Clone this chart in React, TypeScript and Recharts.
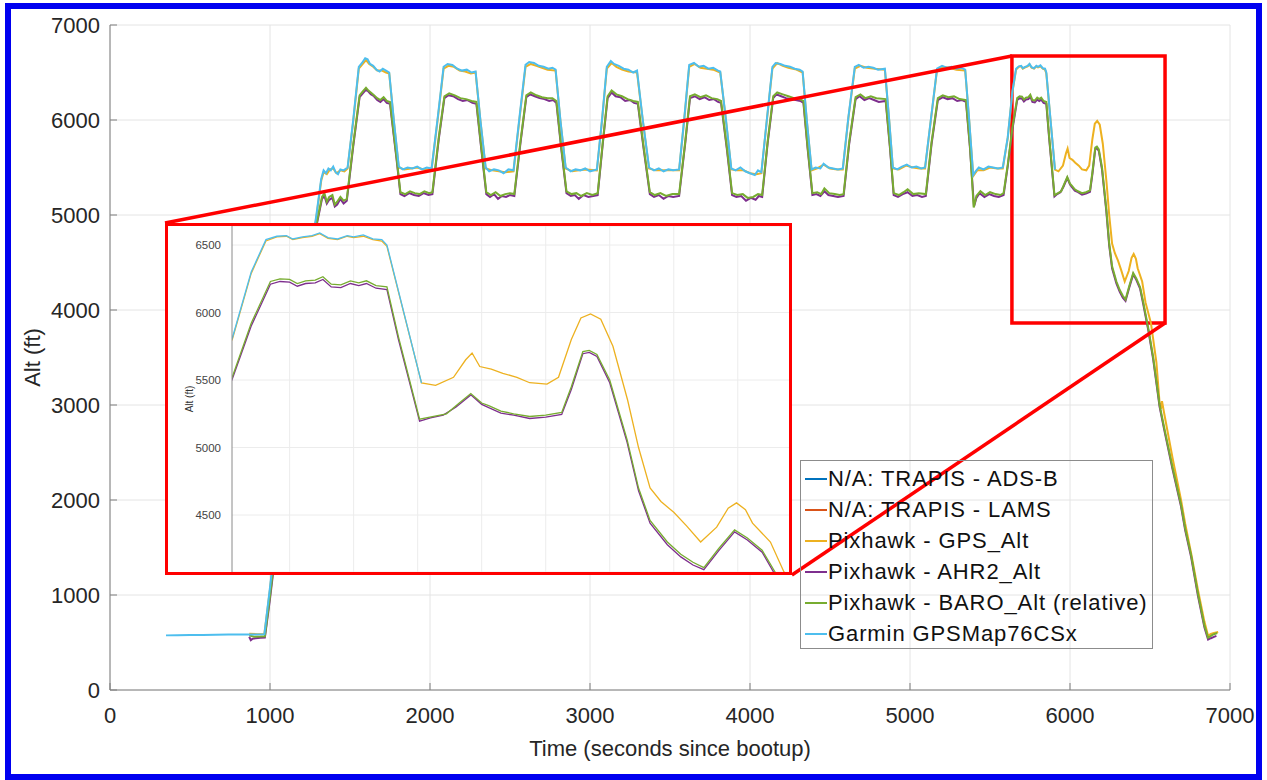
import { LineChart, Line, XAxis, YAxis, CartesianGrid, ReferenceArea, ReferenceLine } from "recharts";

// samples are [time (s since bootup), altitude (ft)]
type Pt = { t: number; v: number };
const toPts = (a: number[][]): Pt[] => a.map(([t, v]) => ({ t, v }));

const TIME_TICKS = [0, 1000, 2000, 3000, 4000, 5000, 6000, 7000];
const ALT_TICKS = [0, 1000, 2000, 3000, 4000, 5000, 6000, 7000];
const INSET_TIME_TICKS = [5700, 5800, 5900, 6000, 6100, 6200, 6300, 6400];
const INSET_ALT_TICKS = [4500, 5000, 5500, 6000, 6500];

const trapisAdsb: number[][] = [];
const trapisLams: number[][] = [];

const gpsAlt = [
  [870, 592], [920, 588], [965, 590], [1000, 1060], [1060, 1930], [1120, 2790], [1180, 3620], [1240, 4410], [1290, 4980],
  [1320, 5360], [1335, 5450], [1355, 5430], [1375, 5480], [1395, 5490], [1415, 5440], [1440, 5470], [1465, 5460], [1485, 5490],
  [1520, 5980], [1555, 6540], [1580, 6590], [1600, 6630], [1620, 6590], [1645, 6560], [1670, 6520], [1700, 6520], [1725, 6500], [1745, 6490],
  [1775, 5970], [1805, 5500], [1840, 5480], [1880, 5490], [1920, 5500], [1960, 5480], [2010, 5480],
  [2050, 6030], [2085, 6540], [2115, 6570], [2150, 6560], [2185, 6520], [2220, 6510], [2255, 6490], [2285, 6500],
  [2315, 5990], [2348, 5490], [2390, 5470], [2430, 5460], [2470, 5450], [2522, 5460],
  [2560, 6020], [2597, 6560], [2630, 6590], [2665, 6570], [2700, 6550], [2735, 6530], [2785, 6520],
  [2815, 5990], [2848, 5490], [2890, 5460], [2930, 5470], [2970, 5480], [3043, 5470],
  [3075, 5990], [3105, 6540], [3135, 6600], [3165, 6560], [3200, 6530], [3240, 6510], [3294, 6500],
  [3330, 5990], [3369, 5490], [3410, 5470], [3450, 5470], [3500, 5470], [3557, 5470],
  [3590, 6020], [3620, 6560], [3655, 6590], [3690, 6550], [3730, 6540], [3770, 6530], [3814, 6500],
  [3850, 5990], [3883, 5480], [3920, 5470], [3960, 5470], [4000, 5440], [4040, 5430], [4071, 5440],
  [4105, 5990], [4140, 6540], [4170, 6600], [4205, 6570], [4240, 6550], [4290, 6530], [4329, 6500],
  [4355, 5990], [4385, 5470], [4420, 5490], [4460, 5530], [4500, 5490], [4545, 5480], [4580, 5480],
  [4615, 6020], [4655, 6540], [4690, 6570], [4730, 6550], [4780, 6540], [4843, 6530],
  [4870, 5990], [4893, 5490], [4930, 5480], [4975, 5520], [5020, 5500], [5060, 5490], [5094, 5490],
  [5130, 5990], [5169, 6530], [5205, 6560], [5245, 6550], [5290, 6530], [5345, 6520],
  [5370, 5990], [5395, 5410], [5420, 5470], [5460, 5470], [5500, 5500], [5545, 5490], [5580, 5490],
  [5611, 5810], [5640, 6290], [5663, 6530], [5680, 6560], [5695, 6565], [5705, 6540], [5720, 6555], [5735, 6565], [5747, 6585],
  [5760, 6550], [5775, 6540], [5790, 6565], [5800, 6555], [5815, 6565], [5830, 6540], [5844, 6530], [5852, 6490],
  [5906, 5478], [5928, 5460], [5956, 5520], [5975, 5650], [5985, 5700], [5997, 5600], [6015, 5580], [6033, 5550], [6055, 5520],
  [6075, 5480], [6102, 5470], [6120, 5520], [6140, 5800], [6155, 5960], [6170, 5990], [6186, 5950], [6205, 5750], [6228, 5350],
  [6245, 5000], [6263, 4700], [6280, 4600], [6300, 4520], [6320, 4420], [6342, 4300], [6367, 4410], [6385, 4550], [6398, 4590],
  [6412, 4540], [6423, 4440], [6451, 4300], [6472, 4080], [6506, 3860], [6540, 3450], [6560, 3020], [6568, 2960], [6575, 3040],
  [6590, 2900], [6640, 2450], [6694, 2000], [6720, 1750], [6757, 1440], [6800, 1050], [6840, 720], [6863, 570], [6880, 590],
  [6900, 600], [6926, 610],
];

const ahr2Alt = [
  [870, 560], [880, 525], [890, 538], [910, 545], [940, 550], [968, 552], [1000, 960], [1060, 1800], [1120, 2640], [1180, 3480],
  [1240, 4300], [1290, 4880], [1325, 5170], [1340, 5200], [1355, 5120], [1370, 5160], [1390, 5180], [1405, 5090], [1420, 5110],
  [1440, 5170], [1460, 5120], [1480, 5150],
  [1520, 5720], [1560, 6240], [1580, 6280], [1600, 6320], [1615, 6300], [1630, 6270], [1650, 6250], [1670, 6210], [1690, 6190],
  [1710, 6220], [1730, 6180], [1750, 6170],
  [1790, 5600], [1815, 5220], [1840, 5200], [1870, 5230], [1900, 5210], [1930, 5200], [1960, 5230], [1990, 5210], [2015, 5220],
  [2055, 5800], [2090, 6230], [2115, 6260], [2145, 6250], [2175, 6220], [2205, 6200], [2235, 6210], [2265, 6180], [2290, 6170],
  [2320, 5700], [2352, 5220], [2375, 5190], [2400, 5220], [2425, 5170], [2450, 5200], [2475, 5190], [2500, 5210], [2527, 5200],
  [2565, 5750], [2602, 6240], [2625, 6270], [2655, 6250], [2685, 6230], [2715, 6220], [2745, 6200], [2770, 6210], [2790, 6180],
  [2820, 5700], [2853, 5230], [2880, 5200], [2905, 5210], [2930, 5170], [2960, 5210], [2990, 5190], [3020, 5200], [3048, 5210],
  [3080, 5750], [3110, 6230], [3135, 6290], [3160, 6250], [3190, 6240], [3220, 6200], [3250, 6210], [3275, 6180], [3299, 6170],
  [3335, 5700], [3374, 5220], [3400, 5190], [3430, 5210], [3460, 5170], [3490, 5200], [3520, 5190], [3557, 5200],
  [3595, 5750], [3625, 6230], [3655, 6250], [3685, 6220], [3715, 6240], [3745, 6210], [3775, 6220], [3800, 6190], [3819, 6180],
  [3855, 5700], [3888, 5210], [3915, 5190], [3945, 5200], [3975, 5150], [4005, 5180], [4035, 5160], [4055, 5200], [4076, 5190],
  [4110, 5750], [4145, 6230], [4165, 6270], [4195, 6250], [4225, 6230], [4255, 6220], [4285, 6210], [4315, 6200], [4334, 6180],
  [4360, 5700], [4390, 5210], [4415, 5220], [4440, 5200], [4465, 5250], [4490, 5210], [4520, 5200], [4550, 5190], [4585, 5200],
  [4620, 5750], [4660, 6220], [4685, 6250], [4715, 6210], [4745, 6230], [4775, 6210], [4805, 6190], [4848, 6200],
  [4875, 5700], [4898, 5210], [4925, 5190], [4955, 5220], [4985, 5240], [5015, 5200], [5045, 5210], [5075, 5190], [5099, 5200],
  [5135, 5750], [5174, 6210], [5205, 6240], [5235, 6220], [5265, 6230], [5295, 6200], [5325, 6210], [5350, 6190],
  [5375, 5700], [5400, 5090], [5415, 5180], [5435, 5230], [5465, 5190], [5495, 5220], [5525, 5200], [5555, 5190], [5585, 5210],
  [5611, 5515], [5640, 5900], [5670, 6210], [5685, 6230], [5700, 6225], [5712, 6195], [5725, 6215], [5740, 6220], [5752, 6245],
  [5765, 6190], [5780, 6185], [5795, 6215], [5808, 6200], [5820, 6215], [5835, 6180], [5852, 6170], [5870, 5800], [5903, 5195],
  [5920, 5220], [5940, 5240], [5960, 5300], [5983, 5390], [6000, 5320], [6011, 5295], [6030, 5255], [6050, 5240], [6075, 5215],
  [6100, 5225], [6125, 5245], [6140, 5430], [6158, 5695], [6168, 5705], [6180, 5675], [6200, 5480], [6227, 5040], [6245, 4680],
  [6263, 4440], [6290, 4280], [6311, 4190], [6330, 4130], [6347, 4095], [6370, 4235], [6395, 4375], [6415, 4315], [6438, 4225],
  [6458, 4060], [6490, 3780], [6520, 3480], [6560, 2980], [6590, 2730], [6640, 2330], [6694, 1930], [6720, 1680], [6757, 1400],
  [6800, 990], [6840, 660], [6863, 530], [6880, 545], [6900, 560], [6915, 570],
];

const baroAlt = [
  [870, 575], [900, 560], [940, 562], [968, 565], [1000, 990], [1060, 1830], [1120, 2670], [1180, 3510], [1240, 4330], [1290, 4900],
  [1325, 5190], [1340, 5230], [1355, 5140], [1370, 5190], [1390, 5210], [1405, 5110], [1420, 5140], [1440, 5190], [1460, 5150], [1480, 5170],
  [1520, 5740], [1560, 6260], [1580, 6300], [1600, 6340], [1615, 6310], [1630, 6290], [1650, 6260], [1670, 6230], [1690, 6210],
  [1710, 6240], [1730, 6200], [1750, 6190],
  [1790, 5620], [1815, 5240], [1845, 5220], [1875, 5250], [1905, 5230], [1935, 5220], [1965, 5250], [1995, 5230], [2015, 5240],
  [2055, 5820], [2090, 6250], [2120, 6280], [2155, 6260], [2190, 6230], [2225, 6220], [2260, 6200], [2290, 6190],
  [2320, 5720], [2352, 5240], [2380, 5210], [2410, 5240], [2440, 5200], [2470, 5220], [2500, 5230], [2527, 5220],
  [2565, 5770], [2602, 6260], [2630, 6290], [2665, 6260], [2700, 6240], [2735, 6230], [2765, 6230], [2790, 6200],
  [2820, 5720], [2853, 5250], [2885, 5220], [2915, 5230], [2945, 5200], [2980, 5230], [3015, 5210], [3048, 5230],
  [3080, 5770], [3110, 6250], [3135, 6310], [3165, 6270], [3200, 6250], [3235, 6220], [3270, 6200], [3299, 6190],
  [3335, 5720], [3374, 5240], [3405, 5210], [3440, 5230], [3475, 5200], [3515, 5220], [3557, 5220],
  [3595, 5770], [3625, 6250], [3655, 6270], [3690, 6240], [3725, 6260], [3760, 6230], [3795, 6220], [3819, 6200],
  [3855, 5720], [3888, 5230], [3920, 5210], [3955, 5220], [3985, 5180], [4020, 5190], [4050, 5220], [4076, 5210],
  [4110, 5770], [4145, 6250], [4170, 6290], [4205, 6270], [4240, 6250], [4275, 6230], [4310, 6220], [4334, 6200],
  [4360, 5720], [4390, 5230], [4420, 5240], [4445, 5220], [4465, 5280], [4495, 5230], [4530, 5220], [4560, 5210], [4585, 5220],
  [4620, 5770], [4660, 6240], [4690, 6270], [4720, 6230], [4755, 6250], [4790, 6230], [4848, 6220],
  [4875, 5720], [4898, 5230], [4930, 5210], [4960, 5240], [4985, 5270], [5020, 5220], [5055, 5230], [5099, 5220],
  [5135, 5770], [5174, 6230], [5205, 6260], [5240, 6240], [5275, 6250], [5310, 6220], [5350, 6210],
  [5375, 5720], [5398, 5080], [5415, 5200], [5440, 5250], [5470, 5210], [5500, 5240], [5535, 5220], [5565, 5210], [5585, 5230],
  [5611, 5530], [5640, 5920], [5670, 6230], [5685, 6250], [5700, 6245], [5712, 6215], [5725, 6235], [5740, 6240], [5752, 6265],
  [5765, 6210], [5780, 6205], [5795, 6235], [5808, 6220], [5820, 6235], [5835, 6200], [5852, 6190], [5870, 5820], [5903, 5210],
  [5925, 5230], [5945, 5250], [5965, 5330], [5983, 5400], [6000, 5330], [6011, 5310], [6030, 5270], [6050, 5250], [6075, 5230],
  [6100, 5240], [6125, 5260], [6140, 5450], [6158, 5710], [6168, 5720], [6180, 5690], [6200, 5500], [6227, 5060], [6245, 4700],
  [6263, 4460], [6290, 4300], [6311, 4210], [6330, 4150], [6347, 4110], [6370, 4250], [6395, 4390], [6415, 4330], [6438, 4240],
  [6458, 4080], [6490, 3800], [6520, 3500], [6560, 3000], [6590, 2750], [6640, 2350], [6694, 1950], [6720, 1700], [6757, 1420],
  [6800, 1010], [6840, 680], [6863, 550], [6890, 580], [6920, 600],
];

const garminAlt = [
  [350, 575], [420, 577], [500, 578], [580, 580], [660, 581], [740, 583], [820, 584], [900, 585], [965, 587],
  [1000, 1080], [1060, 1950], [1120, 2800], [1180, 3640], [1240, 4430], [1290, 5000], [1320, 5380], [1335, 5470],
  [1350, 5440], [1365, 5490], [1380, 5470], [1395, 5510], [1410, 5450], [1425, 5430], [1440, 5480], [1460, 5470], [1485, 5500],
  [1520, 6000], [1555, 6560], [1575, 6600], [1595, 6650], [1610, 6640], [1625, 6590], [1645, 6570], [1665, 6530], [1685, 6510],
  [1705, 6540], [1725, 6520], [1745, 6500],
  [1775, 5980], [1805, 5510], [1830, 5480], [1860, 5500], [1890, 5490], [1920, 5510], [1950, 5480], [1980, 5500], [2010, 5490],
  [2050, 6050], [2085, 6560], [2110, 6590], [2140, 6580], [2170, 6540], [2200, 6520], [2230, 6530], [2260, 6500], [2285, 6510],
  [2315, 6000], [2348, 5500], [2370, 5460], [2400, 5480], [2430, 5470], [2460, 5440], [2490, 5480], [2522, 5470],
  [2560, 6040], [2597, 6580], [2620, 6610], [2650, 6600], [2680, 6570], [2710, 6560], [2740, 6540], [2765, 6550], [2785, 6530],
  [2815, 6000], [2848, 5500], [2880, 5460], [2910, 5480], [2940, 5470], [2970, 5490], [3000, 5460], [3043, 5480],
  [3075, 6000], [3105, 6560], [3130, 6620], [3150, 6590], [3180, 6570], [3210, 6540], [3240, 6530], [3270, 6500], [3294, 6520],
  [3330, 6000], [3369, 5500], [3400, 5470], [3430, 5490], [3460, 5460], [3490, 5480], [3520, 5470], [3557, 5480],
  [3590, 6030], [3620, 6580], [3650, 6600], [3680, 6560], [3710, 6570], [3740, 6540], [3770, 6550], [3800, 6520], [3814, 6510],
  [3850, 6000], [3883, 5490], [3910, 5470], [3940, 5500], [3970, 5460], [4000, 5440], [4030, 5420], [4050, 5470], [4071, 5450],
  [4105, 6000], [4140, 6560], [4160, 6600], [4190, 6590], [4220, 6570], [4250, 6560], [4280, 6540], [4310, 6530], [4329, 6510],
  [4355, 6000], [4385, 5480], [4410, 5500], [4440, 5490], [4460, 5540], [4490, 5500], [4520, 5490], [4550, 5480], [4580, 5490],
  [4615, 6030], [4655, 6560], [4680, 6580], [4710, 6550], [4740, 6560], [4770, 6550], [4800, 6530], [4843, 6540],
  [4870, 6000], [4893, 5500], [4920, 5480], [4950, 5510], [4980, 5530], [5010, 5500], [5040, 5510], [5070, 5490], [5094, 5500],
  [5130, 6000], [5169, 6540], [5200, 6570], [5230, 6550], [5260, 6560], [5290, 6540], [5320, 6550], [5345, 6530],
  [5370, 6000], [5395, 5420], [5410, 5460], [5430, 5500], [5460, 5480], [5490, 5510], [5520, 5500], [5550, 5490], [5580, 5500],
  [5611, 5819], [5640, 6300], [5663, 6540], [5680, 6565], [5695, 6570], [5705, 6545], [5720, 6560], [5735, 6570], [5747, 6590],
  [5760, 6555], [5775, 6545], [5790, 6570], [5800, 6560], [5815, 6575], [5830, 6545], [5844, 6540], [5852, 6500], [5906, 5478],
];

const SERIES = [
  { name: "N/A: TRAPIS - ADS-B", color: "#0072BD", data: toPts(trapisAdsb) },
  { name: "N/A: TRAPIS - LAMS", color: "#D95319", data: toPts(trapisLams) },
  { name: "Pixhawk - GPS_Alt", color: "#EDB120", data: toPts(gpsAlt) },
  { name: "Pixhawk - AHR2_Alt", color: "#7E2F8E", data: toPts(ahr2Alt) },
  { name: "Pixhawk - BARO_Alt (relative)", color: "#77AC30", data: toPts(baroAlt) },
  { name: "Garmin GPSMap76CSx", color: "#4DBEEE", data: toPts(garminAlt) },
];

// zoom box on the main axes, and the inset corners it is linked to (data units)
const ZOOM_TIME = [5637, 6594];
const ZOOM_ALT = [3863, 6674];
const INSET_TOP_LEFT = [344, 4916];
const INSET_BOTTOM_RIGHT = [4262, 1210];
const INSET_TIME = [5610, 6480];
const INSET_ALT = [4078, 6641];

const FONT = '"Liberation Sans", Arial, Helvetica, sans-serif';
const RED = "#ff0000";

const App = () => {
  return (
    <div style={{ position: "absolute", left: 0, top: 0, width: 1267, height: 780, background: "#fff", overflow: "hidden", fontFamily: FONT }}>
      <LineChart width={1267} height={780} margin={{ top: 25, right: 37, bottom: 20, left: 0 }}>
        <CartesianGrid stroke="#e4e4e4" />
        <XAxis
          type="number"
          dataKey="t"
          domain={[0, 7000]}
          ticks={TIME_TICKS}
          height={70}
          stroke="#7f7f7f"
          tickSize={-7}
          tickMargin={24}
          tick={{ fontSize: 22, fill: "#262626" }}
          label={{ value: "Time (seconds since bootup)", position: "insideBottom", offset: 4, style: { fontSize: 22, fill: "#262626" } }}
        />
        <YAxis
          type="number"
          domain={[0, 7000]}
          ticks={ALT_TICKS}
          width={110}
          stroke="#7f7f7f"
          tickSize={-7}
          tickMargin={17}
          tick={{ fontSize: 22, fill: "#262626" }}
          label={{ value: "Alt (ft)", angle: -90, position: "insideLeft", offset: 32, style: { fontSize: 22, fill: "#262626", textAnchor: "middle" } }}
        />
        {SERIES.map((s) => (
          <Line
            key={s.name}
            data={s.data}
            dataKey="v"
            name={s.name}
            stroke={s.color}
            strokeWidth={2}
            dot={false}
            activeDot={false}
            isAnimationActive={false}
          />
        ))}
        <ReferenceArea x1={ZOOM_TIME[0]} x2={ZOOM_TIME[1]} y1={ZOOM_ALT[0]} y2={ZOOM_ALT[1]} fill="none" fillOpacity={0} stroke={RED} strokeWidth={3.5} />
        <ReferenceLine
          segment={[{ x: INSET_TOP_LEFT[0], y: INSET_TOP_LEFT[1] }, { x: ZOOM_TIME[0], y: ZOOM_ALT[1] }]}
          stroke={RED}
          strokeWidth={3.5}
        />
        <ReferenceLine
          segment={[{ x: INSET_BOTTOM_RIGHT[0], y: INSET_BOTTOM_RIGHT[1] }, { x: ZOOM_TIME[1], y: ZOOM_ALT[0] }]}
          stroke={RED}
          strokeWidth={3.5}
        />
      </LineChart>

      {/* inset */}
      <div style={{ position: "absolute", left: 165, top: 223, width: 627, height: 352, border: `3px solid ${RED}`, boxSizing: "border-box", background: "#fff" }}>
        <LineChart width={621} height={346} margin={{ top: 0, right: 0, bottom: 0, left: 0 }}>
          <CartesianGrid stroke="#ececec" vertical={false} />
          <XAxis
            type="number"
            dataKey="t"
            domain={INSET_TIME}
            ticks={INSET_TIME_TICKS}
            allowDataOverflow
            height={0}
            tick={false}
            tickLine={false}
            axisLine={false}
          />
          <YAxis
            type="number"
            domain={INSET_ALT}
            ticks={INSET_ALT_TICKS}
            allowDataOverflow
            width={64}
            stroke="#8a8a8a"
            tickSize={0}
            tickMargin={11}
            tick={{ fontSize: 11.5, fill: "#444" }}
            label={{ value: "Alt (ft)", angle: -90, position: "insideLeft", offset: 21, style: { fontSize: 10, fill: "#333", textAnchor: "middle" } }}
          />
          {INSET_TIME_TICKS.map((t) => (
            <ReferenceLine key={t} x={t} stroke="#ececec" strokeWidth={1} />
          ))}
          {SERIES.map((s) => (
            <Line
              key={s.name}
              data={s.data}
              dataKey="v"
              stroke={s.color}
              strokeWidth={1.3}
              dot={false}
              activeDot={false}
              isAnimationActive={false}
            />
          ))}
        </LineChart>
      </div>

      {/* legend */}
      <div style={{ position: "absolute", left: 800, top: 460, width: 353, height: 189, border: "1px solid #8c8c8c", boxSizing: "border-box", paddingTop: 2 }}>
        {SERIES.map((s) => (
          <div key={s.name} style={{ display: "flex", alignItems: "center", height: 31 }}>
            <div style={{ marginLeft: 4, width: 22, height: 2, background: s.color }} />
            <span style={{ marginLeft: 1, fontSize: 22, letterSpacing: 0.9, color: "#111", whiteSpace: "nowrap" }}>{s.name}</span>
          </div>
        ))}
      </div>

      <div style={{ position: "absolute", left: 5, top: 3, width: 1257, height: 777, border: "6px solid #0000f0", boxSizing: "border-box", pointerEvents: "none" }} />
    </div>
  );
};

export default App;
